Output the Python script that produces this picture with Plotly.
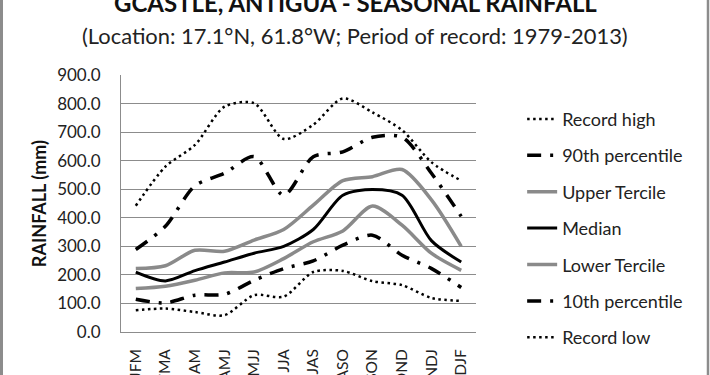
import plotly.graph_objects as go

seasons = ["JFM", "FMA", "MAM", "AMJ", "MJJ", "JJA", "JAS", "ASO", "SON", "OND", "NDJ", "DJF"]
record_high = [442, 579, 655, 789, 801, 676, 726, 818, 769, 707, 594, 530]
pct90 = [289, 370, 512, 556, 614, 479, 614, 631, 682, 682, 555, 405]
upper_tercile = [222, 232, 286, 283, 322, 359, 444, 530, 544, 569, 462, 300]
median = [210, 179, 215, 245, 276, 300, 359, 479, 499, 479, 319, 245]
lower_tercile = [152, 160, 181, 207, 210, 257, 316, 354, 441, 374, 275, 216]
pct10 = [115, 102, 129, 132, 181, 222, 249, 304, 339, 269, 222, 156]
record_low = [76, 82, 70, 59, 129, 124, 210, 214, 178, 164, 119, 109]
y_ticks = [0, 100, 200, 300, 400, 500, 600, 700, 800, 900]

FONT = "Lato"
GRAY = "#8a8a8a"
GRID = "#8c8c8c"

series = [
    ("Record high", record_high, dict(color="black", width=2.5, dash="2.5px,3.5px")),
    ("90th percentile", pct90, dict(color="black", width=3.5, dash="14px,9px,3px,9px")),
    ("Upper Tercile", upper_tercile, dict(color=GRAY, width=3.5)),
    ("Median", median, dict(color="black", width=3)),
    ("Lower Tercile", lower_tercile, dict(color=GRAY, width=3.5)),
    ("10th percentile", pct10, dict(color="black", width=3.5, dash="14px,9px,3px,9px")),
    ("Record low", record_low, dict(color="black", width=2.5, dash="2.5px,3.5px")),
]

fig = go.Figure()
for i, (name, vals, line) in enumerate(series):
    fig.add_trace(go.Scatter(
        x=seasons, y=vals, name=name, mode="lines",
        line=dict(shape="spline", smoothing=0.8, **line),
        legendgroup=f"g{i}",
    ))

fig.update_layout(
    width=710, height=375,
    margin=dict(l=121, r=234, t=75, b=43, autoexpand=False),
    paper_bgcolor="white", plot_bgcolor="white",
    font=dict(family=FONT, color="#222222"),
    showlegend=True,
    legend=dict(
        x=1.13, xanchor="left", y=0.9, yanchor="top",
        font=dict(family=FONT, size=18, color="#222222"),
        tracegroupgap=10, bgcolor="rgba(0,0,0,0)", maxheight=375,
    ),
    xaxis=dict(
        type="category", range=[-0.5, 11.5], showgrid=False, showline=True, linecolor=GRID, linewidth=1,
        tickangle=-90, tickfont=dict(family=FONT, size=15.5, color="#222222"),
        ticks="", ticklabelstandoff=10, automargin=False,
    ),
    yaxis=dict(
        range=[0, 900], tickvals=y_ticks, ticktext=[f"{v:.1f}" for v in y_ticks],
        showgrid=True, gridcolor=GRID, gridwidth=1,
        showline=True, linecolor=GRID, linewidth=1, zeroline=False,
        ticks="", tickfont=dict(family=FONT, size=17, color="#222222"),
        ticklabelstandoff=16, automargin=False,
    ),
    annotations=[
        dict(text="<b>GCASTLE, ANTIGUA - SEASONAL RAINFALL</b>", xref="paper", yref="paper",
             x=(355 - 121) / 355, y=(331.7 - 3) / 256.7, xanchor="center", yanchor="middle",
             showarrow=False, font=dict(family=FONT, size=24, color="#111111")),
        dict(text="(Location: 17.1°N, 61.8°W; Period of record: 1979-2013)", xref="paper", yref="paper",
             x=(355 - 121) / 355, y=(331.7 - 36) / 256.7, xanchor="center", yanchor="middle",
             showarrow=False, font=dict(family=FONT, size=21.9, color="#222222")),
        dict(text="<b>RAINFALL (mm)</b>", xref="paper", yref="paper", textangle=-90,
             x=(39 - 121) / 355, y=(331.7 - 204) / 256.7, xanchor="center", yanchor="middle",
             showarrow=False, font=dict(family=FONT, size=18, color="#111111")),
    ],
    shapes=[
        dict(type="line", xref="paper", yref="paper", x0=(1.5 - 121) / 355, x1=(1.5 - 121) / 355,
             y0=-0.3, y1=1.4, line=dict(color="#8c8c8c", width=3)),
        dict(type="line", xref="paper", yref="paper", x0=(708 - 121) / 355, x1=(708 - 121) / 355,
             y0=-0.3, y1=1.4, line=dict(color="#8c8c8c", width=2.5)),
    ],
)

fig.write_html("out.html", config={"displayModeBar": False},
               post_script="document.body.style.margin='0';document.body.style.overflow='hidden';")
